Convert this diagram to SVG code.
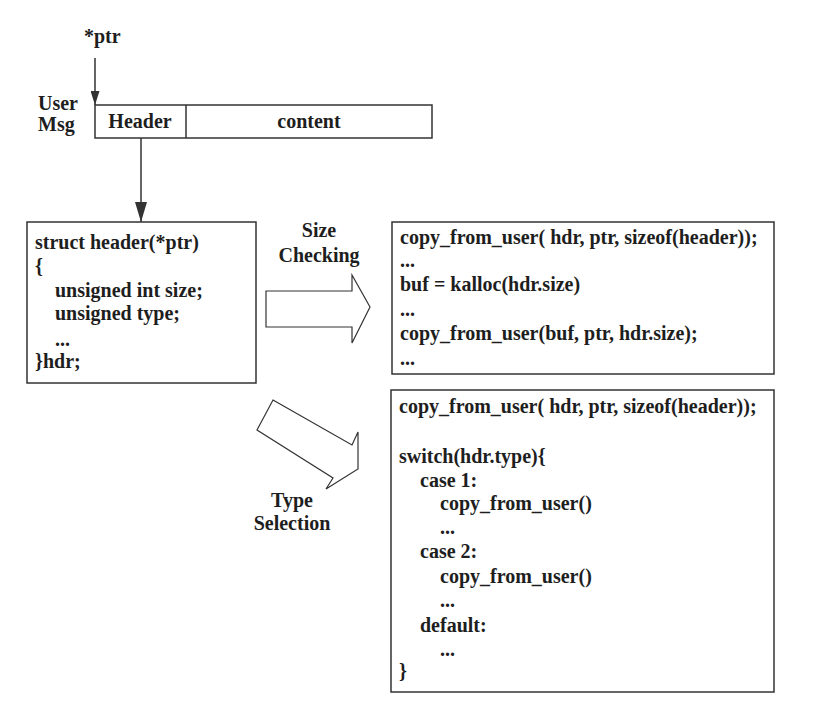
<svg xmlns="http://www.w3.org/2000/svg" width="822" height="725" viewBox="0 0 822 725">
<style>
text{font-family:"Liberation Serif","Times New Roman",serif;font-weight:bold;font-size:20px;fill:#1e1e1e}
.box{fill:#fff;stroke:#333;stroke-width:1.5}
.ln{stroke:#333;stroke-width:1.5;fill:none}
.blk{fill:#fff;stroke:#333;stroke-width:1.2;stroke-linejoin:miter}
.c{text-anchor:middle}
</style>
<defs>
<marker id="ah" viewBox="0 0 10 10" refX="10" refY="5" markerWidth="14" markerHeight="9" markerUnits="userSpaceOnUse" orient="auto" preserveAspectRatio="none">
<path d="M0,0 L10,5 L0,10 z" fill="#333"/>
</marker>
<marker id="ah2" viewBox="0 0 10 10" refX="10" refY="5" markerWidth="20" markerHeight="12" markerUnits="userSpaceOnUse" orient="auto" preserveAspectRatio="none">
<path d="M0,0 L10,5 L0,10 z" fill="#333"/>
</marker>
</defs>
<rect width="822" height="725" fill="#fff"/>

<g id="ptr-label"><text x="84" y="43">*ptr</text></g>
<g id="user-msg-label"><text x="38" y="110">User</text><text x="38" y="131">Msg</text></g>

<g id="user-msg">
<rect class="box" x="95" y="105" width="337" height="33"/>
<line class="ln" x1="186" y1="105" x2="186" y2="138"/>
<text class="c" x="140" y="128">Header</text>
<text class="c" x="309" y="128">content</text>
</g>

<g id="struct-header">
<rect class="box" x="27" y="222" width="229" height="161"/>
<text x="35" y="249">struct header(*ptr)</text>
<text x="35" y="273">{</text>
<text x="55" y="297">unsigned int size;</text>
<text x="55" y="320">unsigned type;</text>
<text x="55" y="346">...</text>
<text x="35" y="368">}hdr;</text>
</g>

<g id="size-check-code">
<rect class="box" x="392" y="222" width="382" height="152"/>
<text x="400" y="244">copy_from_user( hdr, ptr, sizeof(header));</text>
<text x="400" y="267">...</text>
<text x="400" y="291">buf = kalloc(hdr.size)</text>
<text x="400" y="316">...</text>
<text x="400" y="340">copy_from_user(buf, ptr, hdr.size);</text>
<text x="400" y="365">...</text>
</g>

<g id="type-select-code">
<rect class="box" x="391" y="390" width="383" height="302"/>
<text x="399" y="413">copy_from_user( hdr, ptr, sizeof(header));</text>
<text x="399" y="463">switch(hdr.type){</text>
<text x="420" y="487">case 1:</text>
<text x="440" y="510">copy_from_user()</text>
<text x="440" y="534">...</text>
<text x="420" y="558">case 2:</text>
<text x="440" y="583">copy_from_user()</text>
<text x="440" y="607">...</text>
<text x="420" y="632">default:</text>
<text x="440" y="656">...</text>
<text x="399" y="678">}</text>
</g>

<g id="size-checking-label">
<text class="c" x="319" y="237">Size</text>
<text class="c" x="319" y="262">Checking</text>
</g>
<g id="type-selection-label">
<text class="c" x="292" y="507">Type</text>
<text class="c" x="292" y="530">Selection</text>
</g>

<g id="connectors">
<line class="ln" x1="95" y1="58" x2="95" y2="105" marker-end="url(#ah)"/>
<line class="ln" x1="141" y1="138" x2="141" y2="222" marker-end="url(#ah2)"/>
<polygon class="blk" points="266,291 352,291 352,275 370,307 352,343 352,327 266,327"/>
<polygon class="blk" points="273,400 352,445 358,432 358,469 326,489 333,478 257,430"/>
</g>
</svg>
